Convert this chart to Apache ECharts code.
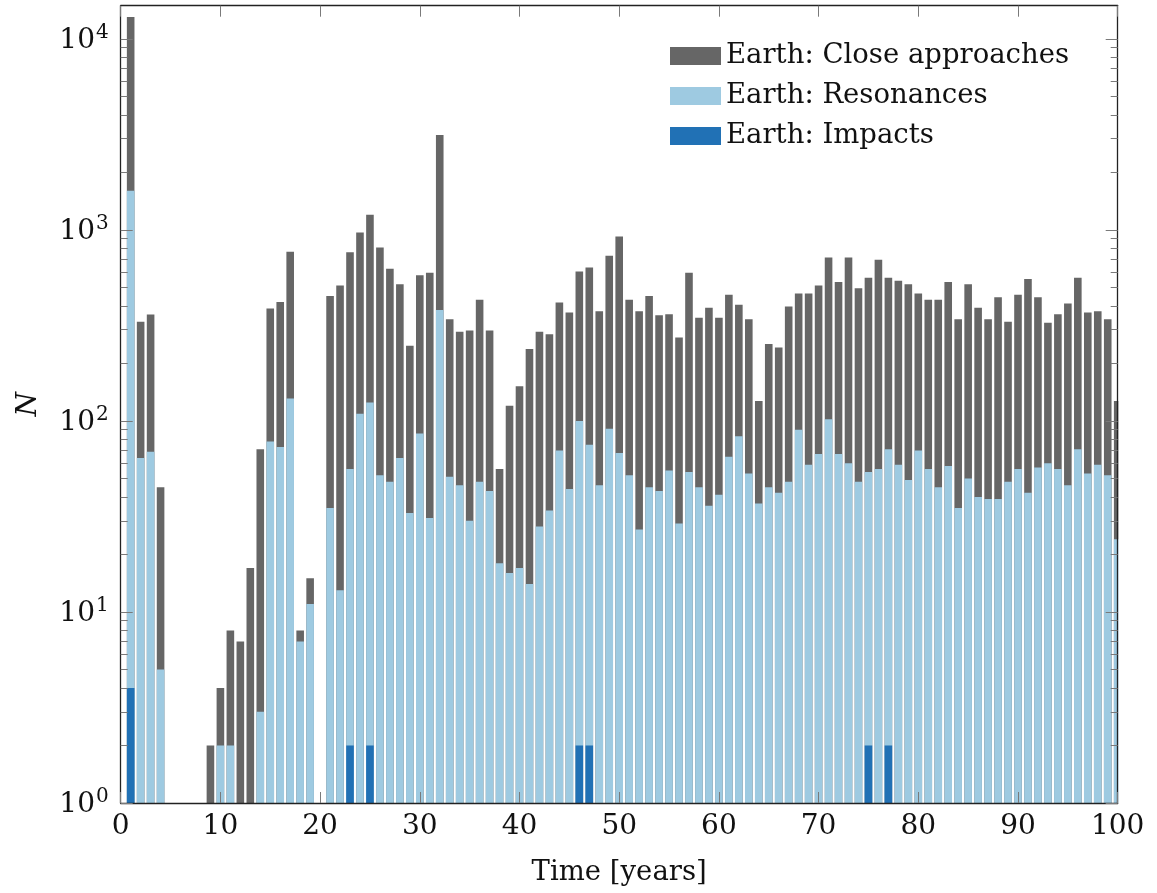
<!DOCTYPE html>
<html>
<head>
<meta charset="utf-8">
<script src="https://cdn.jsdelivr.net/npm/echarts@6/dist/echarts.min.js"></script>
<style>
html,body{margin:0;padding:0;background:#fff;}
#chart{width:1157px;height:893px;}
</style>
</head>
<body>
<div id="chart"></div>
<script>
// ---- Data ----
var years = [];
for (var i = 1; i <= 100; i++) years.push(i);

var closeApproaches = [
  13000, 330, 360, 45, null, null, null, null, 2, 4,
  8, 7, 17, 71, 387, 419, 767, 8, 15, null,
  451, 511, 764, 968, 1199, 809, 626, 519, 247, 579,
  597, 3140, 340, 293, 297, 431, 297, 56, 120, 152,
  238, 293, 284, 417, 369, 605, 635, 375, 731, 923,
  431, 375, 451, 357, 362, 273, 597, 347, 391, 347,
  457, 405, 340, 127, 253, 242, 397, 464, 464, 511,
  717, 533, 717, 494, 561, 697, 561, 542, 519, 464,
  431, 431, 533, 340, 519, 391, 340, 444, 330, 457,
  553, 444, 326, 362, 411, 561, 369, 375, 340, 127
];
var resonances = [
  1600, 64, 69, 5, null, null, null, null, null, 2,
  2, null, null, 3, 78, 73, 131, 7, 11, null,
  35, 13, 56, 109, 125, 52, 48, 64, 33, 86,
  31, 380, 51, 46, 30, 48, 43, 18, 16, 17,
  14, 28, 34, 70, 44, 100, 75, 46, 91, 68,
  52, 27, 45, 43, 55, 29, 54, 45, 36, 41,
  65, 83, 53, 37, 45, 42, 48, 90, 59, 67,
  102, 67, 60, 48, 54, 56, 71, 59, 49, 70,
  56, 45, 58, 35, 50, 40, 39, 39, 48, 56,
  42, 57, 60, 56, 46, 71, 53, 59, 52, 24
];
var impactYears = [1, 23, 25, 46, 47, 75, 77];
var impactValues = [4, 2, 2, 2, 2, 2, 2];

var seriesNames = ['Earth: Close approaches', 'Earth: Resonances', 'Earth: Impacts'];
var xTickLabels = [0, 10, 20, 30, 40, 50, 60, 70, 80, 90, 100];
var yDecades = [0, 1, 2, 3, 4];

// ---- Style ----
var FONT = 'DejaVu Serif';
var TEXT = '#111111';
var C_CLOSE = '#666666';
var C_RES = '#9ecae1';
var C_IMP = '#2171b5';
var Y_MIN = 1, Y_MAX = 14900, X_MIN = 0, X_MAX = 100;
var LOG_MAX = Math.log10(Y_MAX);

function pairs(xs, vs) {
  var out = [];
  for (var i = 0; i < xs.length; i++) out.push([xs[i], vs[i] == null ? '-' : vs[i]]);
  return out;
}

// tick positions (in log10 space) for helper axes
var minorTickPos = [];
yDecades.forEach(function (d) {
  for (var k = 2; k <= 9; k++) {
    var v = Math.log10(k) + d;
    if (v <= LOG_MAX) minorTickPos.push(v);
  }
});

var chart = echarts.init(document.getElementById('chart'), null, {renderer: 'canvas'});

var tickLine = {color: '#7a7a7a', width: 1};
var frameLine = {show: true, onZero: false, lineStyle: {color: '#222', width: 1.3}};
function helperY(position, len, values, withLabels) {
  return {
    type: 'value', position: position, min: 0, max: LOG_MAX, z: 5,
    axisLine: {show: false, onZero: false},
    splitLine: {show: false},
    axisTick: {show: true, inside: true, length: len, lineStyle: tickLine, customValues: values},
    axisLabel: withLabels ? {
      show: true, customValues: values, margin: 12,
      formatter: function (v) { return '{b|10}{s|' + Math.round(v) + '}'; },
      rich: {
        b: {fontFamily: FONT, fontSize: 28, color: TEXT, verticalAlign: 'bottom'},
        s: {fontFamily: FONT, fontSize: 20, color: TEXT, verticalAlign: 'bottom', padding: [0, 0, 12, 1]}
      }
    } : {show: false}
  };
}

var option = {
  animation: false,
  backgroundColor: '#ffffff',
  grid: {left: 120.7, right: 39.3, top: 5.7, bottom: 90, containLabel: false},
  legend: {
    orient: 'vertical', left: 670, top: 41, padding: 0,
    itemWidth: 51, itemHeight: 18, itemGap: 10,
    icon: 'rect',
    textStyle: {fontFamily: FONT, fontSize: 27.5, color: TEXT, lineHeight: 30},
    data: seriesNames
  },
  xAxis: [
    {
      type: 'value', position: 'bottom', min: X_MIN, max: X_MAX, interval: 10, z: 5,
      name: 'Time [years]', nameLocation: 'middle', nameGap: 56,
      nameTextStyle: {fontFamily: FONT, fontSize: 27.5, color: TEXT},
      axisLine: frameLine,
      axisTick: {show: true, inside: true, length: 11, lineStyle: tickLine},
      axisLabel: {show: true, margin: 10, fontFamily: FONT, fontSize: 28, color: TEXT,
        customValues: xTickLabels},
      splitLine: {show: false}
    },
    {
      type: 'value', position: 'top', min: X_MIN, max: X_MAX, interval: 10, z: 5,
      axisLine: frameLine,
      axisTick: {show: true, inside: true, length: 11, lineStyle: tickLine},
      axisLabel: {show: false},
      splitLine: {show: false}
    }
  ],
  yAxis: [
    {
      type: 'log', logBase: 10, position: 'left', min: Y_MIN, max: Y_MAX, z: 5,
      name: 'N', nameLocation: 'middle', nameGap: 78, nameRotate: 90,
      nameTextStyle: {fontFamily: FONT, fontStyle: 'italic', fontSize: 28, color: TEXT},
      axisLine: frameLine,
      axisTick: {show: false},
      axisLabel: {show: false},
      splitLine: {show: false}
    },
    helperY('left', 12, yDecades, true),
    helperY('left', 7, minorTickPos, false),
    {
      type: 'log', logBase: 10, position: 'right', min: Y_MIN, max: Y_MAX, z: 5,
      axisLine: frameLine,
      axisTick: {show: false},
      axisLabel: {show: false},
      splitLine: {show: false}
    },
    helperY('right', 12, yDecades, false),
    helperY('right', 7, minorTickPos, false)
  ],
  series: [
    {
      name: seriesNames[0], type: 'bar', xAxisIndex: 0, yAxisIndex: 0,
      barWidth: 7.6, barGap: '-100%', clip: true, z: 2,
      itemStyle: {color: C_CLOSE},
      data: pairs(years, closeApproaches)
    },
    {
      name: seriesNames[1], type: 'bar', xAxisIndex: 0, yAxisIndex: 0,
      barWidth: 7.6, barGap: '-100%', clip: true, z: 2,
      itemStyle: {color: C_RES},
      data: pairs(years, resonances)
    },
    {
      name: seriesNames[2], type: 'bar', xAxisIndex: 0, yAxisIndex: 0,
      barWidth: 7.6, barGap: '-100%', clip: true, z: 2,
      itemStyle: {color: C_IMP},
      data: pairs(impactYears, impactValues)
    }
  ]
};
chart.setOption(option);

// Mask the part of bars that falls outside the plot frame (value-axis bars are not clipped along x)
var xRight = chart.convertToPixel({xAxisIndex: 0}, X_MAX);
chart.setOption({
  graphic: [{
    type: 'rect', silent: true, z: 4,
    shape: {x: xRight + 0.65, y: 0, width: 1157 - xRight, height: 893},
    style: {fill: '#ffffff'}
  }]
});
</script>
</body>
</html>
